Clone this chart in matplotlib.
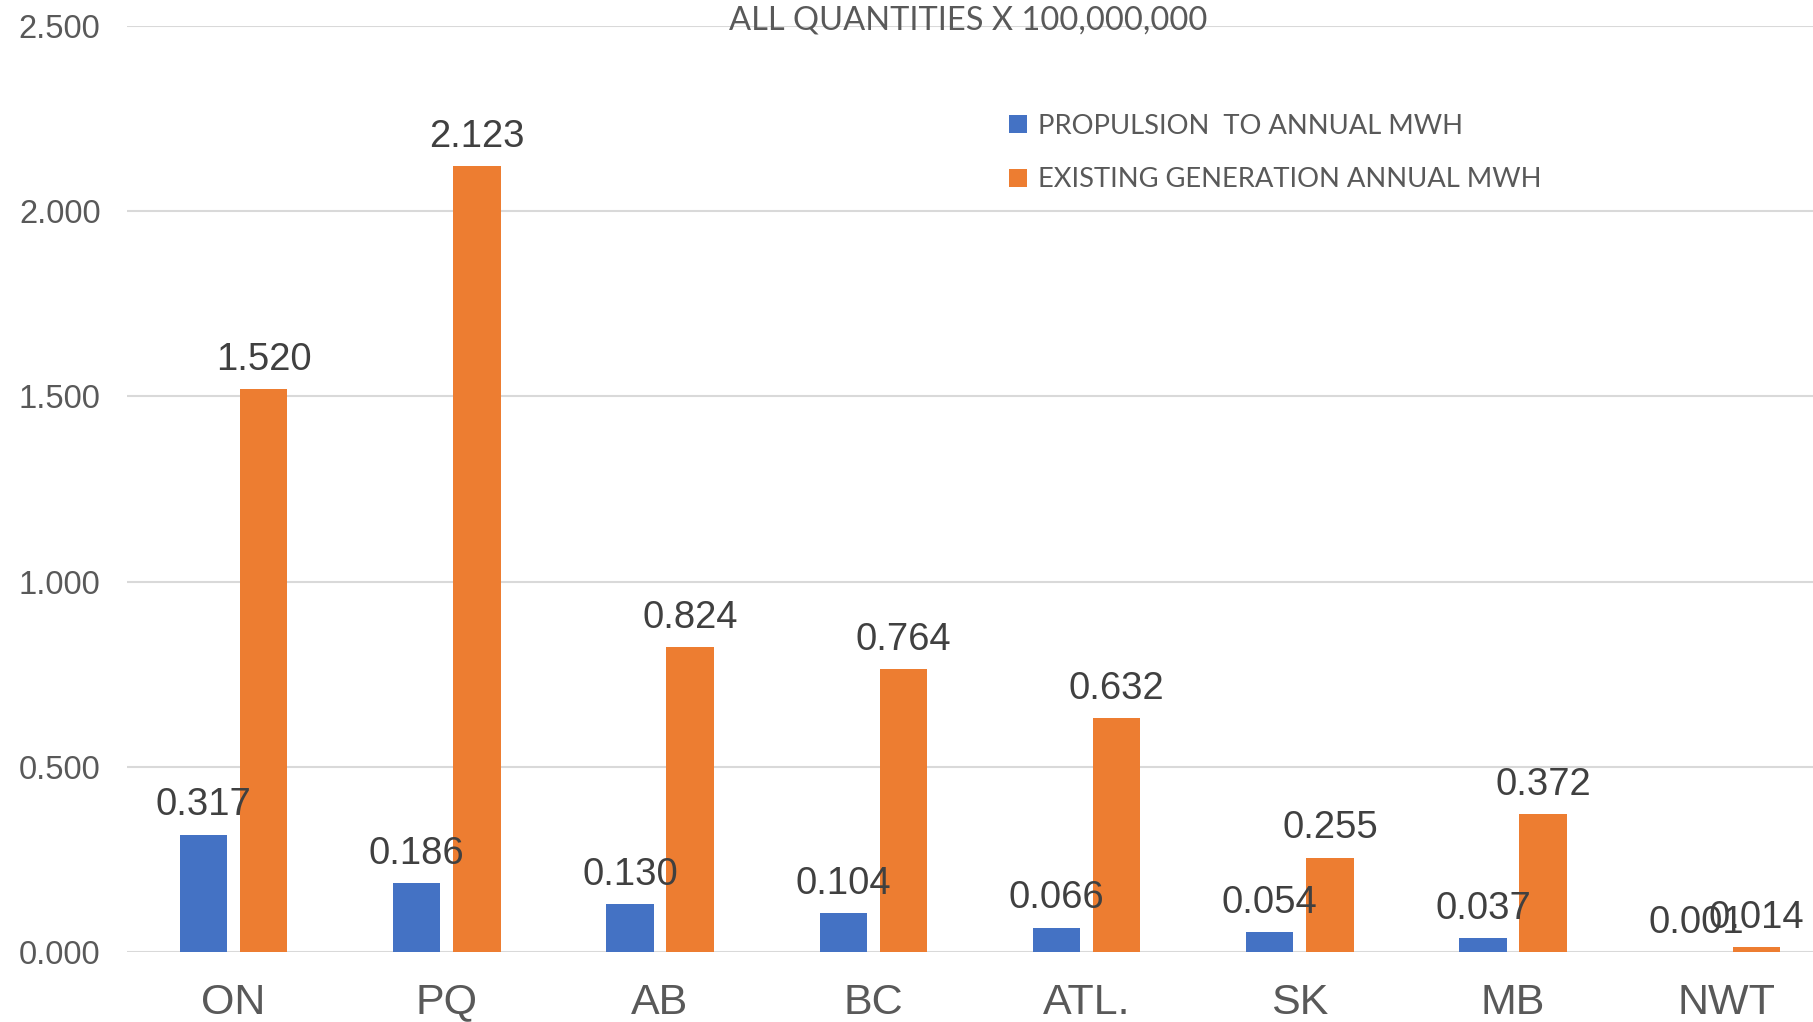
import numpy as np
import matplotlib
matplotlib.use("Agg")
import matplotlib.pyplot as plt

# Data (all quantities x 100,000,000)
regions = ["ON", "PQ", "AB", "BC", "ATL.", "SK", "MB", "NWT"]
propulsion = [0.317, 0.186, 0.130, 0.104, 0.066, 0.054, 0.037, 0.001]
existing = [1.520, 2.123, 0.824, 0.764, 0.632, 0.255, 0.372, 0.014]
y_ticks = [0.0, 0.5, 1.0, 1.5, 2.0, 2.5]

blue = "#4472C4"
orange = "#ED7D31"
grey_text = "#595959"
label_text = "#404040"

plt.rcParams["font.family"] = ["Liberation Sans", "DejaVu Sans"]

fig = plt.figure(figsize=(18.13, 10.22), dpi=100)
# plot area runs a little past the right edge, as in the original
ax = fig.add_axes([0.070, 0.0685, 0.941, 0.906])

x = np.arange(len(regions))
w = 0.222
off = 0.141
b1 = ax.bar(x - off, propulsion, w, color=blue, label="PROPULSION  TO ANNUAL MWH", zorder=3)
b2 = ax.bar(x + off, existing, w, color=orange, label="EXISTING GENERATION ANNUAL MWH", zorder=3)

# value labels above bars
for bars, vals in ((b1, propulsion), (b2, existing)):
    for bar, v in zip(bars, vals):
        ax.annotate(f"{v:.3f}", (bar.get_x() + bar.get_width() / 2, bar.get_height()),
                    xytext=(0, 8), textcoords="offset points", ha="center", va="bottom",
                    fontsize=27.5, color=label_text, zorder=4)

ax.set_xlim(-0.5, len(regions) - 0.5)
ax.set_ylim(0, 2.5)
ax.set_yticks(y_ticks)
ax.set_yticklabels([f"{t:.3f}" for t in y_ticks])
ax.set_xticks(x)
ax.set_xticklabels(regions)

ax.tick_params(axis="y", length=0, pad=19, labelsize=23.5, labelcolor=grey_text)
ax.tick_params(axis="x", length=0, pad=22, labelsize=31, labelcolor=grey_text)
ax.grid(axis="y", color="#D9D9D9", linewidth=1.5, zorder=0)
for s in ax.spines.values():
    s.set_visible(False)

fig.text(0.534, 1 - 21 / 1022, "ALL QUANTITIES X 100,000,000", fontsize=23.5,
         color=grey_text, family=["Lato", "DejaVu Sans"], ha="center", va="center")

leg = fig.legend(loc="upper left", bbox_to_anchor=(0.543, 0.913),
                 bbox_transform=fig.transFigure, frameon=False,
                 prop={"family": ["Lato", "DejaVu Sans"], "size": 19.7},
                 handlelength=0.65, handleheight=0.65, handletextpad=0.4, labelspacing=1.05)
for t in leg.get_texts():
    t.set_color(grey_text)

fig.savefig("out.png", dpi=100)
